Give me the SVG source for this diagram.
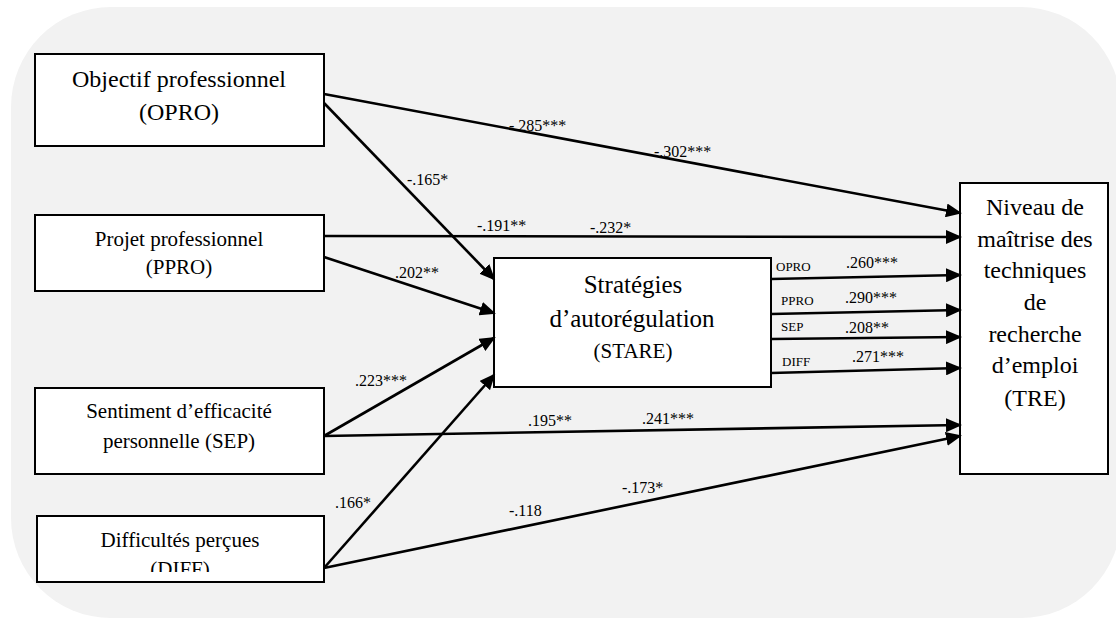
<svg xmlns="http://www.w3.org/2000/svg" width="1116" height="619" viewBox="0 0 1116 619">
<style>
.box{fill:#fff;stroke:#000;stroke-width:2}
.t{font-family:"Liberation Serif","Times New Roman",serif;fill:#000;text-anchor:middle}
.l{font-family:"Liberation Serif","Times New Roman",serif;fill:#000;font-size:16px}
.s{font-family:"Liberation Serif","Times New Roman",serif;fill:#000;font-size:13px}
.c{stroke:#000;stroke-width:2.6;fill:none;marker-end:url(#ah)}
</style>
<defs>
<marker id="ah" markerUnits="userSpaceOnUse" markerWidth="16" markerHeight="14" refX="14" refY="7" orient="auto">
<path d="M0,0 L16,7 L0,14 z" fill="#000"/>
</marker>
<clipPath id="clipDiff"><rect x="37" y="516" width="287" height="56"/></clipPath>
</defs>
<rect x="11" y="7" width="1110" height="611" rx="100" ry="100" fill="#f2f2f2"/>

<g id="OPRO">
<rect class="box" x="35" y="54" width="289" height="92"/>
<text class="t" x="179" y="87" font-size="24">Objectif professionnel</text>
<text class="t" x="179" y="120" font-size="24">(OPRO)</text>
</g>
<g id="PPRO">
<rect class="box" x="35" y="215" width="289" height="76"/>
<text class="t" x="179" y="246" font-size="21">Projet professionnel</text>
<text class="t" x="179" y="274" font-size="21">(PPRO)</text>
</g>
<g id="SEP">
<rect class="box" x="35" y="388" width="289" height="86"/>
<text class="t" x="179" y="418" font-size="21">Sentiment d’efficacité</text>
<text class="t" x="179" y="448" font-size="21">personnelle (SEP)</text>
</g>
<g id="DIFF">
<rect class="box" x="37" y="516" width="287" height="66"/>
<text class="t" x="180" y="547" font-size="21">Difficultés perçues</text>
<text class="t" x="180" y="576" font-size="21" clip-path="url(#clipDiff)">(DIFF)</text>
</g>
<g id="STARE">
<rect class="box" x="494" y="258" width="277" height="129"/>
<text class="t" x="633" y="293" font-size="25">Stratégies</text>
<text class="t" x="632" y="327" font-size="25">d’autorégulation</text>
<text class="t" x="633" y="358" font-size="21">(STARE)</text>
</g>
<g id="TRE">
<rect class="box" x="960" y="183" width="148" height="291"/>
<text class="t" x="1035" y="215" font-size="24">Niveau de</text>
<text class="t" x="1035" y="247" font-size="24">maîtrise des</text>
<text class="t" x="1035" y="278" font-size="24">techniques</text>
<text class="t" x="1035" y="310" font-size="24">de</text>
<text class="t" x="1035" y="342" font-size="24">recherche</text>
<text class="t" x="1035" y="373" font-size="24">d’emploi</text>
<text class="t" x="1035" y="406" font-size="24">(TRE)</text>
</g>

<g id="connectors">
<line class="c" x1="324" y1="94" x2="960" y2="213"/>
<line class="c" x1="324" y1="103" x2="494" y2="279"/>
<line class="c" x1="324" y1="236" x2="960" y2="237"/>
<line class="c" x1="324" y1="257" x2="494" y2="313"/>
<line class="c" x1="324" y1="436" x2="494" y2="338"/>
<line class="c" x1="324" y1="436" x2="960" y2="425"/>
<line class="c" x1="324" y1="568" x2="494" y2="375"/>
<line class="c" x1="324" y1="568" x2="960" y2="436"/>
<line class="c" x1="771" y1="279" x2="960" y2="275"/>
<line class="c" x1="771" y1="314" x2="960" y2="310"/>
<line class="c" x1="771" y1="339" x2="960" y2="337"/>
<line class="c" x1="771" y1="373" x2="960" y2="368"/>

<text class="l" x="509" y="131">-.285***</text>
<text class="l" x="654" y="157" font-size="18">-.302***</text>
<text class="l" x="407" y="185" font-size="18">-.165*</text>
<text class="l" x="477" y="231">-.191**</text>
<text class="l" x="590" y="233">-.232*</text>
<text class="l" x="395" y="278" font-size="18">.202**</text>
<text class="l" x="355" y="386">.223***</text>
<text class="l" x="528" y="426">.195**</text>
<text class="l" x="642" y="424">.241***</text>
<text class="l" x="335" y="508">.166*</text>
<text class="l" x="509" y="516">-.118</text>
<text class="l" x="622" y="493">-.173*</text>

<text class="s" x="776" y="271">OPRO</text>
<text class="l" x="846" y="268">.260***</text>
<text class="s" x="781" y="305">PPRO</text>
<text class="l" x="845" y="303">.290***</text>
<text class="s" x="781" y="331">SEP</text>
<text class="l" x="845" y="333">.208**</text>
<text class="s" x="782" y="366">DIFF</text>
<text class="l" x="852" y="362">.271***</text>
</g>
</svg>
